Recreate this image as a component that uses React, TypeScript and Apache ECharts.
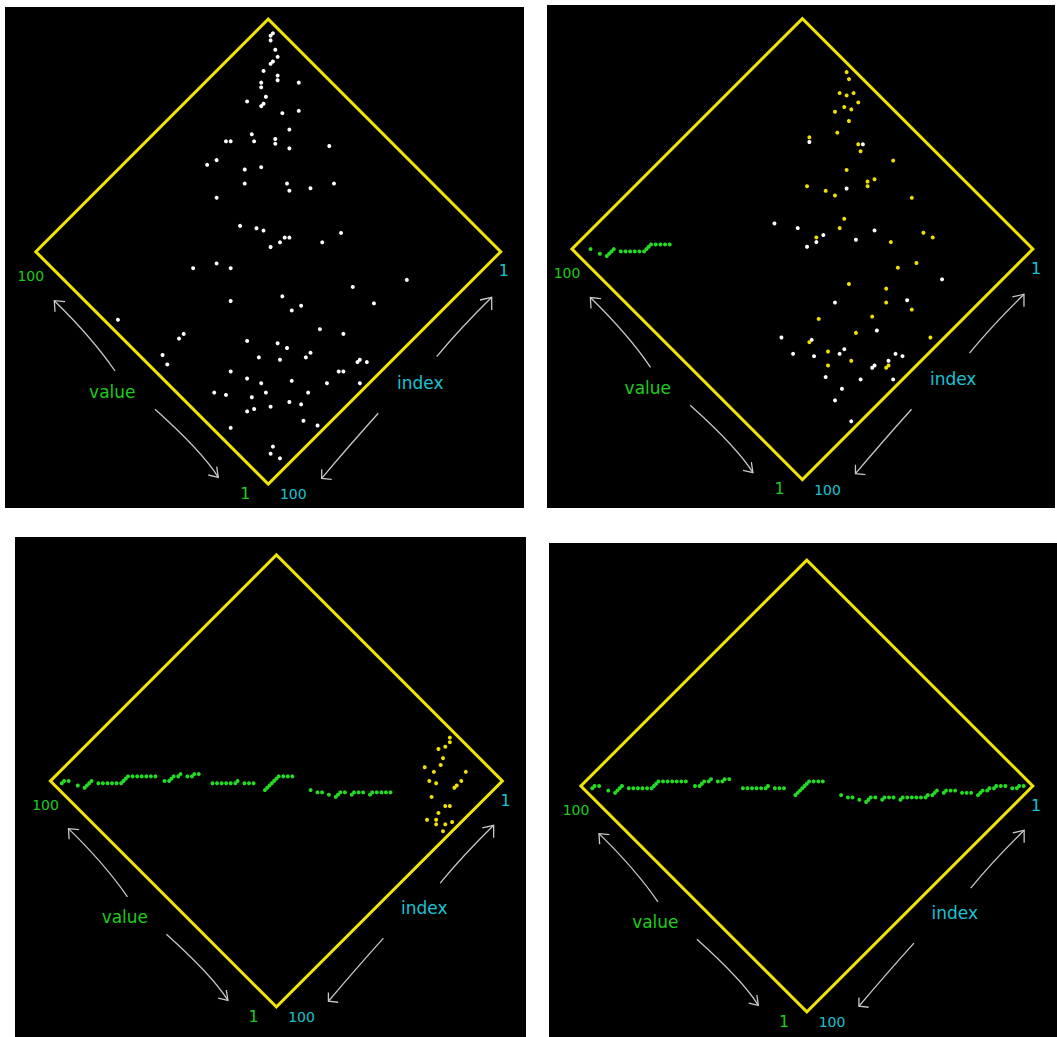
import React, { useEffect, useRef } from "react";
import * as echarts from "echarts";

// ---------- data ----------
const AXIS_MIN = 1;
const AXIS_MAX = 100;
const INDEX_TICKS = ["100", "1"]; // index: 100 at bottom corner, 1 at right corner
const VALUE_TICKS = ["100", "1"]; // value: 100 at left corner, 1 at bottom corner
const INDEX_NAME = "index";
const VALUE_NAME = "value";

// panel 1: initial (unsorted) data, [index, value]
const PANEL1_WHITE: number[][] = [
  [3, 96], [4, 96], [5, 95], [6, 92], [7, 90], [9, 90], [10, 90], [13, 90], [11, 86], [12, 85],
  [8, 80], [16, 88], [17, 87], [18, 84], [20, 83], [23, 87], [21, 83], [18, 77], [14, 74], [20, 72],
  [29, 79], [36, 83], [35, 82], [30, 77], [25, 73], [26, 72], [24, 68], [15, 60], [42, 81], [45, 82],
  [38, 73], [34, 70], [41, 70], [32, 61], [33, 59], [28, 55], [22, 51], [50, 73], [51, 62], [48, 58],
  [47, 56], [44, 50], [43, 49], [46, 50], [37, 41], [31, 39], [49, 51], [70, 63], [64, 59], [62, 55],
  [69, 48], [97, 68], [57, 38], [55, 32], [58, 33], [40, 25], [27, 15], [39, 17], [86, 51], [88, 51],
  [95, 51], [96, 48], [74, 36], [68, 29], [67, 26], [75, 30], [71, 25], [65, 20], [63, 20], [56, 23],
  [52, 17], [54, 8], [53, 6], [55, 8], [84, 33], [82, 28], [80, 24], [73, 18], [61, 10], [60, 9],
  [66, 10], [59, 3], [92, 32], [90, 29], [85, 23], [81, 21], [72, 12], [78, 14], [89, 21], [87, 20],
  [83, 17], [76, 11], [79, 7], [77, 3], [96, 21], [91, 8], [93, 7], [92, 4],
];

// panel 2: untouched (white) and moved (yellow) elements
const PANEL2_WHITE: number[][] = [
  [26, 72], [15, 60], [28, 54], [51, 62], [47, 56], [43, 49], [46, 49], [49, 50], [37, 41], [31, 39],
  [27, 14], [55, 32], [39, 17], [52, 17], [74, 36], [68, 29], [75, 30], [71, 25], [65, 20], [63, 20],
  [53, 8], [52, 6], [56, 8], [61, 10], [60, 10], [73, 18], [66, 10], [59, 3], [72, 12], [76, 11], [77, 3],
];
const PANEL2_YELLOW: number[][] = [
  [3, 79], [4, 77], [9, 76], [8, 74], [6, 73], [7, 70], [11, 72], [10, 70], [14, 73], [13, 68],
  [18, 68], [25, 73], [16, 61], [17, 59], [12, 50], [24, 58], [20, 50], [22, 51], [23, 50], [36, 63],
  [33, 58], [32, 55], [16, 38], [35, 48], [38, 47], [45, 50], [30, 33], [21, 28], [20, 25], [29, 23],
  [34, 26], [48, 33], [41, 24], [44, 21], [40, 14], [50, 21], [62, 32], [57, 21], [69, 29], [42, 4],
  [67, 23], [64, 16], [70, 20], [57, 7], [58, 7],
];

// panel 3: remaining unsorted (yellow) elements
const PANEL3_YELLOW: number[][] = [
  [3, 22], [4, 21], [8, 22], [6, 21], [9, 19], [11, 18], [15, 21], [14, 18], [17, 17], [16, 15],
  [10, 10], [12, 10], [13, 10], [7, 11], [20, 13], [19, 8], [18, 7], [22, 8], [24, 7], [26, 9],
  [25, 6], [23, 4], [21, 3], [25, 3],
];

// sorted values (green), starting at index SORTED_FIRST_INDEX
const SORTED_FIRST_INDEX = 3;
const SORTED_VALUES: number[] = [
  3, 4, 4, 5, 7, 8, 9, 9, 10, 10,
  11, 11, 11, 13, 14, 15, 17, 18, 19, 19,
  21, 21, 21, 22, 22, 23, 24, 25, 26, 27,
  27, 29, 30, 31, 31, 33, 34, 34, 34, 36,
  38, 39, 41, 48, 49, 50, 51, 51, 51, 51,
  51, 51, 51, 55, 56, 57, 59, 59, 60, 61,
  62, 63, 64, 69, 70, 70, 71, 73, 73, 74,
  74, 74, 75, 78, 79, 80, 81, 82, 83, 84,
  84, 84, 84, 85, 86, 87, 88, 89, 91, 91,
  91, 91, 93, 96, 97, 97,
];
const SORTED_RANGES = [null, [78, 96], [28, 98], [3, 98]];

// ---------- layout ----------
const PANELS = [
  { rect: [5, 7, 519, 501], cx: 268.3, cy: 251.7, h: 232.5 },
  { rect: [547, 5, 508, 503], cx: 802.5, cy: 249, h: 230.5 },
  { rect: [15, 537, 511, 500], cx: 276.5, cy: 781, h: 226 },
  { rect: [549, 543, 508, 494], cx: 807, cy: 786, h: 226 },
];
const FRAME = "#f2e400";
const WHITE = "#ffffff";
const YELLOW = "#f0e000";
const GREEN = "#22dd22";
const TXT_GREEN = "#1ccc1c";
const TXT_CYAN = "#19c3d3";
const ARROW = "#c8c8c8";
const FONT = '"DejaVu Sans"';

const ARROWS = [
  { p0: [-153.3, 119.3], c: [-176, 86], p2: [-214, 49], a1: [-203.3, 50], a2: [-213.3, 60] },
  { p0: [-113.3, 157.6], c: [-66, 200], p2: [-50, 225.6], a1: [-60, 223.3], a2: [-51.6, 215] },
  { p0: [168.4, 105], c: [191.5, 77], p2: [223.4, 45.6], a1: [211.7, 48.3], a2: [223.4, 58.3] },
  { p0: [110, 161.6], c: [80, 195], p2: [53.4, 226.6], a1: [63.4, 227.6], a2: [53.4, 217.6] },
];

function sortedSlice(range: number[]) {
  const out: number[][] = [];
  SORTED_VALUES.forEach((v, k) => {
    const i = SORTED_FIRST_INDEX + k;
    if (i >= range[0] && i <= range[1]) out.push([i, v]);
  });
  return out;
}

function pointSeries(gi: number, data: number[][], color: string) {
  return {
    type: "custom",
    coordinateSystem: "cartesian2d",
    xAxisIndex: gi,
    yAxisIndex: gi,
    clip: false,
    z: 3,
    encode: { x: 0, y: 1 },
    data,
    renderItem: (params: any, api: any) => {
      const cs = params.coordSys;
      const ox = cs.x + cs.width / 2;
      const oy = cs.y + cs.height / 2;
      const p = api.coord([api.value(0), api.value(1)]);
      return {
        type: "circle",
        originX: ox,
        originY: oy,
        rotation: Math.PI / 4,
        shape: { cx: p[0], cy: p[1], r: 2 },
        style: { fill: color },
      };
    },
  };
}

function frameSeries(gi: number) {
  return {
    type: "custom",
    coordinateSystem: "cartesian2d",
    xAxisIndex: gi,
    yAxisIndex: gi,
    clip: false,
    z: 2,
    encode: { x: 0, y: 1 },
    data: [[AXIS_MIN, AXIS_MIN]],
    renderItem: (params: any, api: any) => {
      const cs = params.coordSys;
      const ox = cs.x + cs.width / 2;
      const oy = cs.y + cs.height / 2;
      const pts = [
        api.coord([AXIS_MAX, AXIS_MIN]),
        api.coord([AXIS_MIN, AXIS_MIN]),
        api.coord([AXIS_MIN, AXIS_MAX]),
        api.coord([AXIS_MAX, AXIS_MAX]),
      ];
      return {
        type: "polygon",
        originX: ox,
        originY: oy,
        rotation: Math.PI / 4,
        shape: { points: pts },
        style: { fill: "none", stroke: FRAME, lineWidth: 3, lineJoin: "miter" },
      };
    },
  };
}

function txt(text: string, x: number, y: number, color: string, size: number) {
  return {
    type: "text",
    z: 100,
    style: {
      text,
      x,
      y,
      fill: color,
      font: `${size}px ${FONT}`,
      textAlign: "center",
      textVerticalAlign: "middle",
      align: "center",
      verticalAlign: "middle",
    },
  };
}

function buildGraphic() {
  const g: any[] = [];
  PANELS.forEach((p) => {
    g.push({
      type: "rect",
      z: -10,
      shape: { x: p.rect[0], y: p.rect[1], width: p.rect[2], height: p.rect[3] },
      style: { fill: "#000000" },
    });
  });
  PANELS.forEach((p) => {
    const f = p.h / 232.5;
    const { cx, cy, h } = p;
    g.push(txt(VALUE_TICKS[0], cx - h - 5, cy + 24, TXT_GREEN, 14));
    g.push(txt(VALUE_TICKS[1], cx - 23, cy + h + 9, TXT_GREEN, 16));
    g.push(txt(VALUE_NAME, cx - 156 * f, cy + 140 * f, TXT_GREEN, 17));
    g.push(txt(INDEX_TICKS[0], cx + 25, cy + h + 10, TXT_CYAN, 14));
    g.push(txt(INDEX_TICKS[1], cx + h + 3, cy + 19, TXT_CYAN, 16));
    g.push(txt(INDEX_NAME, cx + 152 * f, cy + 131 * f, TXT_CYAN, 17));
    ARROWS.forEach((a) => {
      const P = (q: number[]) => [cx + q[0] * f, cy + q[1] * f];
      const p0 = P(a.p0), c = P(a.c), p2 = P(a.p2), a1 = P(a.a1), a2 = P(a.a2);
      g.push({
        type: "bezierCurve",
        z: 100,
        shape: { x1: p0[0], y1: p0[1], x2: p2[0], y2: p2[1], cpx1: c[0], cpy1: c[1] },
        style: { stroke: ARROW, lineWidth: 1.3, fill: "none" },
      });
      g.push({
        type: "polyline",
        z: 100,
        shape: { points: [a1, p2, a2] },
        style: { stroke: ARROW, lineWidth: 1.3, fill: "none" },
      });
    });
  });
  return g;
}

export default function App() {
  const ref = useRef<HTMLDivElement>(null);
  useEffect(() => {
    if (!ref.current) return;
    const chart = echarts.init(ref.current, null, { renderer: "svg" });
    const grids = PANELS.map((p) => {
      const s = p.h * Math.SQRT2;
      return { left: p.cx - s / 2, top: p.cy - s / 2, width: s, height: s, show: false };
    });
    const xAxis = PANELS.map((_, k) => ({
      type: "value", gridIndex: k, min: AXIS_MIN, max: AXIS_MAX, inverse: true, show: false,
    }));
    const yAxis = PANELS.map((_, k) => ({
      type: "value", gridIndex: k, min: AXIS_MIN, max: AXIS_MAX, show: false,
    }));
    const series: any[] = [];
    PANELS.forEach((_, k) => series.push(frameSeries(k)));
    series.push(pointSeries(0, PANEL1_WHITE, WHITE));
    series.push(pointSeries(1, PANEL2_WHITE, WHITE));
    series.push(pointSeries(1, PANEL2_YELLOW, YELLOW));
    series.push(pointSeries(2, PANEL3_YELLOW, YELLOW));
    SORTED_RANGES.forEach((r, k) => {
      if (r) series.push(pointSeries(k, sortedSlice(r), GREEN));
    });
    chart.setOption({
      animation: false,
      backgroundColor: "#ffffff",
      grid: grids,
      xAxis,
      yAxis,
      series,
      graphic: buildGraphic(),
    });
    return () => chart.dispose();
  }, []);
  return (
    <div
      ref={ref}
      style={{ position: "absolute", left: 0, top: 0, width: 1057, height: 1037 }}
    />
  );
}
